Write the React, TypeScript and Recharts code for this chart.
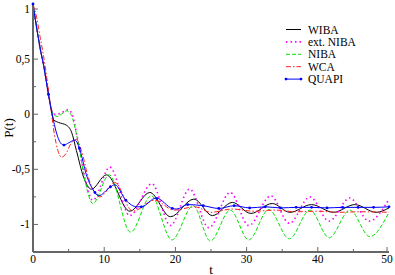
import { LineChart, Line, XAxis, YAxis, Legend } from "recharts";

// tick positions (minor every 5 / 0.25, labels only on majors)
const xTicks = [0, 5, 10, 15, 20, 25, 30, 35, 40, 45, 50];
const yTicks = [-1, -0.75, -0.5, -0.25, 0, 0.25, 0.5, 0.75, 1];

// WIBA
const wibaT = [0, 0.5, 1, 1.5, 2, 2.5, 2.9, 3.6, 4.7, 5.4, 6.1, 7.1, 8.2, 10.3, 13.6, 16.4, 19.3, 22.6, 25.2, 28, 30.6, 33.6, 36.1, 39.1, 42.2, 45.2, 48.2, 50];
const wibaP = [1, 0.79, 0.6, 0.44, 0.25, 0.06, -0.05, -0.075, -0.1, -0.16, -0.33, -0.57, -0.68, -0.55, -0.88, -0.71, -0.93, -0.77, -0.92, -0.8, -0.9, -0.81, -0.89, -0.82, -0.89, -0.82, -0.89, -0.85];

// ext. NIBA
const extT = [0, 0.5, 1, 1.5, 2, 2.5, 3, 3.4, 4.2, 4.9, 5.5, 6.3, 7.3, 8.4, 10.8, 13.6, 16.7, 19.3, 22, 24.7, 27.7, 30.3, 33.4, 36, 38.9, 41.6, 44.5, 47.2, 50];
const extP = [1, 0.79, 0.6, 0.44, 0.25, 0.06, 0.0, 0.0, 0.02, 0.04, 0.0, -0.24, -0.58, -0.78, -0.48, -0.92, -0.63, -1.01, -0.68, -1.03, -0.71, -1.01, -0.74, -0.99, -0.75, -0.97, -0.76, -0.97, -0.77];

// NIBA
const nibaT = [0, 0.5, 1, 1.5, 2, 2.5, 3, 3.4, 4, 4.7, 5.3, 6.3, 7.3, 8.4, 10.7, 13.7, 16.6, 19.5, 22.5, 24.9, 27.7, 30.3, 33.1, 36, 38.9, 41.6, 44.5, 47.3, 50];
const nibaP = [1, 0.79, 0.6, 0.44, 0.25, 0.06, -0.01, -0.02, 0.0, 0.03, 0.0, -0.24, -0.6, -0.81, -0.55, -1.07, -0.74, -1.14, -0.83, -1.15, -0.87, -1.14, -0.865, -1.13, -0.87, -1.12, -0.87, -1.11, -0.89];

// WCA
const wcaT = [0, 0.5, 1, 1.5, 2, 2.5, 3, 3.5, 4, 4.6, 5.3, 6.1, 6.8, 7.8, 9.4, 11.5, 14, 17.1, 19.8, 22.7, 25, 28, 31, 34, 37, 40, 43, 46, 50];
const wcaP = [1, 0.88, 0.7, 0.52, 0.3, 0.06, -0.18, -0.33, -0.39, -0.36, -0.27, -0.23, -0.33, -0.58, -0.75, -0.62, -0.88, -0.78, -0.87, -0.84, -0.89, -0.86, -0.88, -0.87, -0.885, -0.88, -0.89, -0.885, -0.89];

// QUAPI line
const quapiT = [0, 0.5, 1, 1.5, 2.17, 2.7, 3.3, 4, 4.35, 5, 5.9, 6.52, 7.5, 8.7, 9.2, 10.87, 11.5, 13.04, 14.6, 15.22, 17.3, 19.57, 20.2, 21.74, 23.91, 26.09, 28.26, 30.43, 32.61, 34.78, 36.96, 39.13, 41.3, 43.48, 45.65, 47.83, 50];
const quapiP = [1, 0.79, 0.6, 0.44, 0.18, 0.0, -0.17, -0.27, -0.28, -0.26, -0.235, -0.31, -0.55, -0.71, -0.74, -0.66, -0.64, -0.78, -0.84, -0.84, -0.76, -0.855, -0.86, -0.82, -0.83, -0.855, -0.83, -0.85, -0.84, -0.85, -0.845, -0.845, -0.85, -0.845, -0.845, -0.845, -0.84];

// QUAPI sample points (markers)
const quapiMarkT = [0, 2.17, 4.35, 6.52, 8.7, 10.87, 13.04, 15.22, 17.39, 19.57, 21.74, 23.91, 26.09, 28.26, 30.43, 32.61, 34.78, 36.96, 39.13, 41.3, 43.48, 45.65, 47.83, 50];
const quapiMarkP = [1, 0.18, -0.28, -0.31, -0.71, -0.66, -0.78, -0.84, -0.765, -0.855, -0.82, -0.83, -0.855, -0.83, -0.85, -0.84, -0.85, -0.845, -0.845, -0.85, -0.845, -0.845, -0.845, -0.84];

const toRows = (ts: number[], ps: number[]) => ts.map((t, i) => ({ t, p: ps[i] }));

const FRAME = "#666666";
const FONT = "Liberation Serif, Times New Roman, DejaVu Serif, serif";
const txt = (size: number) => ({ fontFamily: FONT, fontSize: size });

const series = [
  { name: "WIBA", data: toRows(wibaT, wibaP), color: "#000000", dash: undefined as string | undefined, width: 1 },
  { name: "ext. NIBA", data: toRows(extT, extP), color: "#ff00ff", dash: "1.5 3", width: 1.6 },
  { name: "NIBA", data: toRows(nibaT, nibaP), color: "#00e000", dash: "4 2", width: 1 },
  { name: "WCA", data: toRows(wcaT, wcaP), color: "#ff2020", dash: "5 2 1.5 2", width: 1 },
  { name: "QUAPI", data: toRows(quapiT, quapiP), color: "#0000ff", dash: undefined, width: 1 },
];
const quapiMarks = toRows(quapiMarkT, quapiMarkP);

const fmt = (v: number) => String(v).replace(".", ",");
const majorX = (v: number) => v % 10 === 0;
const majorY = (v: number) => Math.abs(v * 2 - Math.round(v * 2)) < 1e-9;

const BottomTick = ({ x, y, payload }: any) => {
  const big = majorX(payload.value);
  return (
    <g>
      <line x1={x} x2={x} y1={y} y2={y - (big ? 5 : 3)} stroke={FRAME} />
      {big && (
        <text x={x} y={y + 11} textAnchor="middle" fill="#000" fontFamily={FONT} fontSize={11.5}>
          {payload.value}
        </text>
      )}
    </g>
  );
};

const TopTick = ({ x, y, payload }: any) => (
  <line x1={x} x2={x} y1={y} y2={y + (majorX(payload.value) ? 5 : 3)} stroke={FRAME} />
);

const LeftTick = ({ x, y, payload }: any) => {
  const big = majorY(payload.value);
  return (
    <g>
      <line x1={x} x2={x + (big ? 5 : 3)} y1={y} y2={y} stroke={FRAME} />
      {big && (
        <text x={x - 3} y={y} dy="0.35em" textAnchor="end" fill="#000" fontFamily={FONT} fontSize={11.5}>
          {fmt(payload.value)}
        </text>
      )}
    </g>
  );
};

const RightTick = ({ x, y, payload }: any) => (
  <line x1={x} x2={x - (majorY(payload.value) ? 5 : 3)} y1={y} y2={y} stroke={FRAME} />
);

const LegendBox = () => (
  <svg width={110} height={70} style={{ overflow: "visible" }}>
    {series.map((s, i) => {
      const cy = 9.5 + i * 12.4;
      return (
        <g key={s.name}>
          <line x1={6} x2={21} y1={cy} y2={cy} stroke={s.color} strokeWidth={s.width} strokeDasharray={s.dash} />
          {s.name === "QUAPI" && (
            <>
              <circle cx={6} cy={cy} r={1.4} fill={s.color} />
              <circle cx={21} cy={cy} r={1.4} fill={s.color} />
            </>
          )}
          <text x={28} y={cy + 4} fill="#000" fontFamily={FONT} fontSize={11.5}>
            {s.name}
          </text>
        </g>
      );
    })}
  </svg>
);

export default function App() {
  return (
    <div style={{ position: "absolute", left: 0, top: 0, background: "#fff", fontFamily: FONT }}>
      <LineChart width={395} height={275} margin={{ top: 4, right: 6, bottom: 0, left: 0 }} style={{ fontFamily: FONT }}>
        <XAxis
          xAxisId="b"
          dataKey="t"
          type="number"
          domain={[0, 50]}
          ticks={xTicks}
          height={23}
          tickSize={0}
          tickMargin={0}
          tickLine={false}
          axisLine={{ stroke: FRAME, strokeWidth: 2 }}
          tick={<BottomTick />}
          label={{
            content: ({ viewBox }: any) => (
              <text x={viewBox.x + viewBox.width / 2} y={viewBox.y + 21.5} textAnchor="middle" fontFamily={FONT} fontSize={13}>
                t
              </text>
            ),
          }}
        />
        <XAxis
          xAxisId="top"
          orientation="top"
          dataKey="t"
          type="number"
          domain={[0, 50]}
          ticks={xTicks}
          height={0}
          tickSize={0}
          tickMargin={0}
          tickLine={false}
          axisLine={{ stroke: FRAME, strokeWidth: 2 }}
          tick={<TopTick />}
        />
        <YAxis
          yAxisId="l"
          type="number"
          domain={[-1.25, 1]}
          ticks={yTicks}
          width={33}
          tickSize={0}
          tickMargin={0}
          tickLine={false}
          axisLine={{ stroke: FRAME, strokeWidth: 2 }}
          tick={<LeftTick />}
          label={{
            content: ({ viewBox }: any) => {
              const cx = viewBox.x + 8;
              const cy = viewBox.y + viewBox.height / 2;
              return (
                <text x={cx} y={cy} transform={`rotate(-90 ${cx} ${cy})`} textAnchor="middle" dy="0.35em" fontFamily={FONT} fontSize={13}>
                  P(t)
                </text>
              );
            },
          }}
        />
        <YAxis
          yAxisId="r"
          orientation="right"
          type="number"
          domain={[-1.25, 1]}
          ticks={yTicks}
          width={0}
          tickSize={0}
          tickMargin={0}
          tickLine={false}
          axisLine={{ stroke: FRAME, strokeWidth: 2 }}
          tick={<RightTick />}
        />
        {series.map((s) => (
          <Line
            key={s.name}
            xAxisId="b"
            yAxisId="l"
            data={s.data}
            dataKey="p"
            name={s.name}
            type="monotone"
            stroke={s.color}
            strokeWidth={s.width}
            strokeDasharray={s.dash}
            dot={false}
            isAnimationActive={false}
          />
        ))}
        <Line
          xAxisId="b"
          yAxisId="l"
          data={quapiMarks}
          dataKey="p"
          stroke="none"
          legendType="none"
          dot={{ r: 1.4, fill: "#0000ff", stroke: "none" }}
          isAnimationActive={false}
        />
        <Legend
          layout="vertical"
          align="center"
          verticalAlign="middle"
          wrapperStyle={{ left: 280, top: 20, width: 110, height: 70 }}
          content={() => <LegendBox />}
        />
      </LineChart>
    </div>
  );
}
